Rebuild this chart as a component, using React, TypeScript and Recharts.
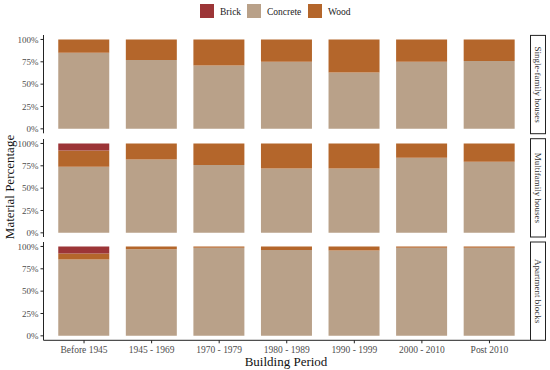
import { BarChart, Bar, XAxis, YAxis } from 'recharts';

const periods = ['Before 1945', '1945 - 1969', '1970 - 1979', '1980 - 1989', '1990 - 1999', '2000 - 2010', 'Post 2010'];
const facets = ['Single-family houses', 'Multifamily houses', 'Apartment blocks'];

// shares per facet, same order as periods
const brickShare = [
  [0, 0, 0, 0, 0, 0, 0],
  [8, 0, 0, 0, 0, 0, 0],
  [8, 0, 0, 0, 0, 0, 0],
];
const concreteShare = [
  [85, 77, 71, 75, 63, 75, 76],
  [74, 82, 76, 72, 72, 84, 79.5],
  [85.5, 97, 98.5, 96, 95.5, 98.5, 98.5],
];
const woodShare = [
  [15, 23, 29, 25, 37, 25, 24],
  [18, 18, 24, 28, 28, 16, 20.5],
  [6.5, 3, 1.5, 4, 4.5, 1.5, 1.5],
];
const pctTicks = [0, 25, 50, 75, 100];

const materials = [
  { key: 'Brick', color: '#9c3537' },
  { key: 'Concrete', color: '#b9a189' },
  { key: 'Wood', color: '#b4662b' },
];

const FONT = '"Liberation Serif", serif';
const PANEL_H = 98.3;
const panelTops = [35.4, 138.7, 242.0];
const AXIS_COLOR = '#222';
const TEXT_COLOR = '#4d4d4d';

function Panel({ idx }: { idx: number }) {
  const rows = periods.map((p, i) => ({
    period: p,
    Brick: brickShare[idx][i],
    Concrete: concreteShare[idx][i],
    Wood: woodShare[idx][i],
  }));
  const bottom = idx === facets.length - 1;
  const axisH = bottom ? 22 : 0;
  return (
    <div style={{ position: 'absolute', left: 0, top: panelTops[idx] }}>
      <BarChart
        width={530}
        height={PANEL_H + axisH}
        data={rows}
        margin={{ top: 0, right: 0, bottom: 0, left: 0 }}
        barSize={51}
        style={{ fontFamily: FONT }}
      >
        <XAxis
          dataKey="period"
          hide={!bottom}
          height={axisH}
          padding={{ left: 6.75, right: 6.75 }}
          tickSize={3}
          tickMargin={3}
          tick={{ fontSize: 9.5, fill: TEXT_COLOR, fontFamily: FONT }}
          axisLine={{ stroke: AXIS_COLOR, strokeWidth: 1 }}
          tickLine={{ stroke: AXIS_COLOR }}
          interval={0}
        />
        <YAxis
          width={43.5}
          domain={[-5, 105]}
          ticks={pctTicks}
          interval={0}
          tickFormatter={(v) => `${v}%`}
          tickSize={3}
          tickMargin={2}
          tick={{ fontSize: 9, fill: TEXT_COLOR, fontFamily: FONT }}
          axisLine={{ stroke: AXIS_COLOR, strokeWidth: 1 }}
          tickLine={{ stroke: AXIS_COLOR }}
        />
        <Bar dataKey="Concrete" stackId="m" fill="#b9a189" isAnimationActive={false} />
        <Bar dataKey="Wood" stackId="m" fill="#b4662b" isAnimationActive={false} />
        <Bar dataKey="Brick" stackId="m" fill="#9c3537" isAnimationActive={false} />
      </BarChart>
    </div>
  );
}

export default function App() {
  const legendX = [200, 247, 308];
  return (
    <div style={{ position: 'absolute', left: 0, top: 0, width: 550, height: 370, background: '#fff', fontFamily: FONT }}>
      {facets.map((f, i) => (
        <Panel key={f} idx={i} />
      ))}
      <svg width={550} height={370} style={{ position: 'absolute', left: 0, top: 0, pointerEvents: 'none', fontFamily: FONT }}>
        {/* legend */}
        {materials.map((m, i) => (
          <g key={m.key}>
            <rect x={legendX[i]} y={4} width={14} height={14} fill={m.color} />
            <text x={legendX[i] + 20} y={11.5} dominantBaseline="central" fontSize={9.5} fill="#222">
              {m.key}
            </text>
          </g>
        ))}
        {/* facet strips */}
        {facets.map((f, i) => (
          <g key={f}>
            <rect x={530.5} y={panelTops[i]} width={15} height={PANEL_H} fill="#fff" stroke="#222" strokeWidth={1} />
            <text
              x={538}
              y={panelTops[i] + PANEL_H / 2}
              textAnchor="middle"
              dominantBaseline="central"
              fontSize={9}
              fill="#333"
              transform={`rotate(90 538 ${panelTops[i] + PANEL_H / 2})`}
            >
              {f}
            </text>
          </g>
        ))}
        {/* axis titles */}
        <text x={286} y={361} textAnchor="middle" dominantBaseline="central" fontSize={13} fill="#111">
          Building Period
        </text>
        <text
          x={9}
          y={187}
          textAnchor="middle"
          dominantBaseline="central"
          fontSize={13}
          fill="#111"
          transform="rotate(-90 9 187)"
        >
          Material Percentage
        </text>
      </svg>
    </div>
  );
}
